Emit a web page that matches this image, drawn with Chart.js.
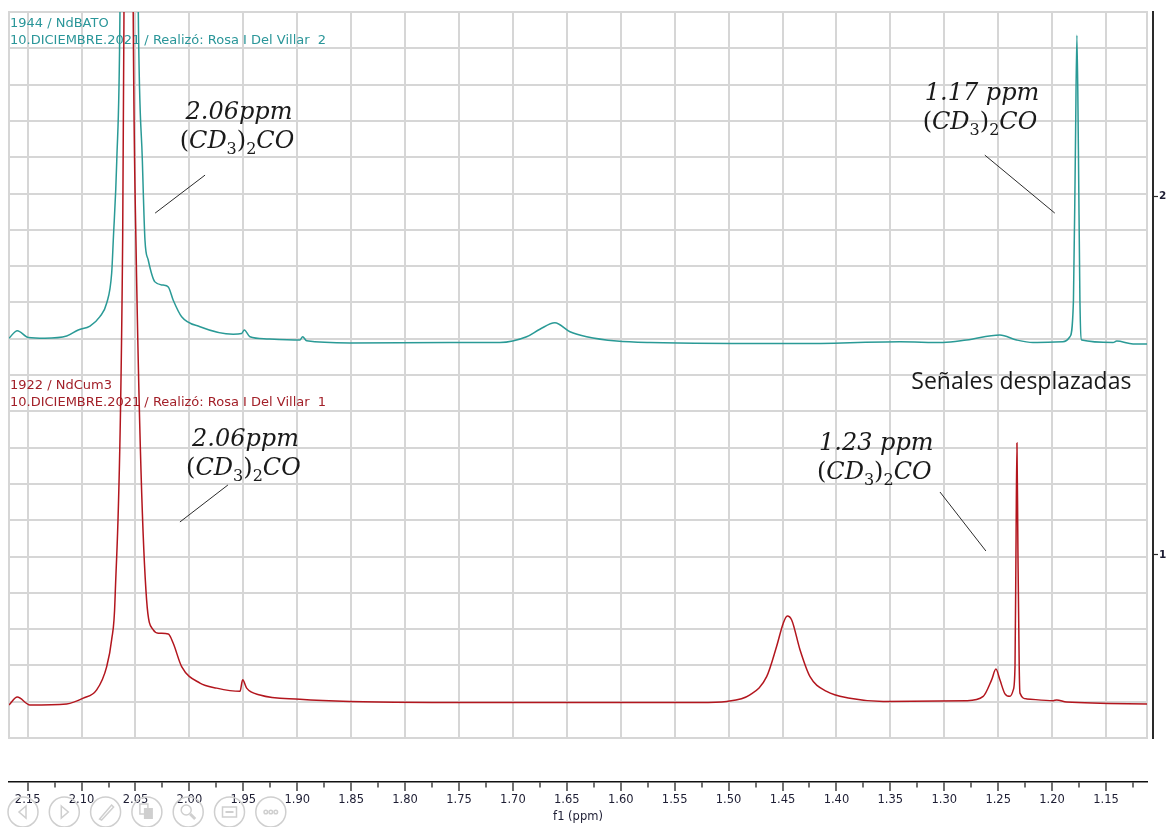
<!DOCTYPE html>
<html>
<head>
<meta charset="utf-8">
<title>NdBATO / NdCum3 - f1 (ppm)</title>
<script src="https://cdn.jsdelivr.net/npm/chart.js@4.4.1/dist/chart.umd.min.js"></script>
<style>
  html, body { margin: 0; padding: 0; background: #fff; }
  #wrap { width: 1169px; height: 827px; position: relative; }
</style>
</head>
<body>
<div id="wrap"><canvas id="nmr"></canvas></div>
<script>
// 1944 / NdBATO trace: shift (ppm) and height above its own baseline
const ppmNdBATO = [2.1673, 2.1596, 2.1494, 2.1340, 2.1138, 2.1031, 2.0922, 2.0830, 2.0767, 2.0721,
  2.0706, 2.0674, 2.0644, 2.0567, 2.0474, 2.0436, 2.0412, 2.0382, 2.0320, 2.0243,
  2.0196, 2.0150, 2.0072, 1.9902, 1.9594, 1.9516, 1.9491, 1.9439, 1.9284, 1.8975,
  1.8950, 1.8913, 1.8511, 1.7584, 1.7120, 1.6873, 1.6750, 1.6611, 1.6471, 1.6316,
  1.6038, 1.5730, 1.4339, 1.3411, 1.3012, 1.2793, 1.2484, 1.2329, 1.2178, 1.1900,
  1.1835, 1.1802, 1.1784, 1.1770, 1.1756, 1.1742, 1.1726, 1.1435, 1.1401, 1.1249, 1.1120];
const intNdBATO = [0.008, 0.029, 0.010, 0.008, 0.014, 0.031, 0.042, 0.068, 0.106, 0.189,
  0.281, 0.500, 0.916, 5.0, 0.916, 0.500, 0.281, 0.226, 0.165, 0.156,
  0.151, 0.114, 0.068, 0.040, 0.019, 0.021, 0.031, 0.012, 0.006, 0.003,
  0.012, 0.001, -0.005, -0.004, -0.004, 0.012, 0.033, 0.051, 0.026, 0.012,
  0.000, -0.004, -0.007, -0.002, -0.004, 0.003, 0.017, 0.003, -0.004, -0.002,
  0.012, 0.114, 0.532, 0.852, 0.532, 0.114, 0.003, -0.004, 0.000, -0.008, -0.008];

// 1922 / NdCum3 trace
const ppmNdCum3 = [2.1673, 2.1596, 2.1479, 2.1138, 2.0984, 2.0860, 2.0767, 2.0721, 2.0690, 2.0619,
  2.0607, 2.0563, 2.0521, 2.0496, 2.0397, 2.0335, 2.0289, 2.0196, 2.0150, 2.0072,
  1.9902, 1.9747, 1.9531, 1.9506, 1.9469, 1.9346, 1.8975, 1.8511, 1.7120, 1.5266,
  1.5018, 1.4802, 1.4647, 1.4555, 1.4493, 1.4456, 1.4415, 1.4338, 1.4245, 1.4091,
  1.3875, 1.3566, 1.2793, 1.2639, 1.2561, 1.2521, 1.2484, 1.2437, 1.2391, 1.2360,
  1.2344, 1.2335, 1.2326, 1.2317, 1.2305, 1.2298, 1.2236, 1.1990, 1.1958, 1.1865, 1.1120];
const intNdCum3 = [-0.006, 0.016, -0.006, -0.003, 0.013, 0.036, 0.101, 0.176, 0.287, 1.290,
  1.916, 5.0, 1.916, 1.290, 0.287, 0.203, 0.194, 0.192, 0.166, 0.101,
  0.055, 0.041, 0.032, 0.064, 0.041, 0.022, 0.010, 0.004, 0.001, 0.001,
  0.004, 0.022, 0.073, 0.157, 0.222, 0.242, 0.231, 0.148, 0.073, 0.032,
  0.013, 0.004, 0.006, 0.018, 0.064, 0.094, 0.064, 0.025, 0.018, 0.036,
  0.101, 0.426, 0.724, 0.426, 0.101, 0.027, 0.011, 0.006, 0.008, 0.002, -0.003];

// where each trace sits on the stack axis
const baseNdBATO = 1.596;
const baseNdCum3 = 0.588;

const ppmTicks = [2.15, 2.10, 2.05, 2.00, 1.95, 1.90, 1.85, 1.80, 1.75, 1.70, 1.65,
  1.60, 1.55, 1.50, 1.45, 1.40, 1.35, 1.30, 1.25, 1.20, 1.15];
const stackTicks = [1, 2];

// spectrum headers (stack axis value of first line)
const headers = [
  { val: 2.482, color: '#2a9699', lines: ['1944 / NdBATO', '10.DICIEMBRE.2021 / Realizó: Rosa I Del Villar  2'] },
  { val: 1.471, color: '#a21f28', lines: ['1922 / NdCum3', '10.DICIEMBRE.2021 / Realizó: Rosa I Del Villar  1'] }
];

// solvent peak call-outs: text anchor and leader line, in ppm / stack units
const notes = [
  { text: '2.06ppm',  ppm: 1.954, val: 2.216, line: [2.0318, 1.9526, 1.9855, 2.0585] },
  { text: '2.06ppm',  ppm: 1.948, val: 1.304, line: [2.0088, 1.0919, 1.9643, 1.1950] },
  { text: '1.17 ppm', ppm: 1.265, val: 2.267, line: [1.2624, 2.1142, 1.1975, 1.9526] },
  { text: '1.23 ppm', ppm: 1.363, val: 1.293, line: [1.3040, 1.1755, 1.2614, 1.0111] }
];
const shiftNote = { text: 'Señales desplazadas', ppm: 1.2285, val: 1.462 };

const toolIcons = ['prev', 'next', 'pen', 'copy', 'zoom', 'keys', 'more'];

function isMajor(v) {
  return Math.abs(v * 20 - Math.round(v * 20)) < 1e-6;
}

const allTicks = [];
ppmTicks.forEach(v => { allTicks.push(v); allTicks.push(+(v - 0.025).toFixed(3)); });

function trace(ppm, ints, base) {
  return ppm.map((p, i) => ({ x: p, y: base + ints[i] }));
}

// (CD3)2CO with subscripts, centred on cx
function drawFormula(ctx, cx, y) {
  const parts = [
    { t: '(', f: '24px "DejaVu Serif"', dy: 0 },
    { t: 'CD', f: 'italic 24px "DejaVu Serif"', dy: 0 },
    { t: '3', f: '16px "DejaVu Serif"', dy: 6 },
    { t: ')', f: '24px "DejaVu Serif"', dy: 0 },
    { t: '2', f: '16px "DejaVu Serif"', dy: 6 },
    { t: 'CO', f: 'italic 24px "DejaVu Serif"', dy: 0 }
  ];
  let w = 0;
  parts.forEach(p => { ctx.font = p.f; p.w = ctx.measureText(p.t).width; w += p.w; });
  let x = cx - w / 2;
  ctx.textAlign = 'left';
  parts.forEach(p => { ctx.font = p.f; ctx.fillText(p.t, x, y + p.dy); x += p.w; });
}

const frame = {
  id: 'frame',
  beforeDatasetsDraw(chart) {
    const { ctx, chartArea: a, scales } = chart;
    ctx.save();
    ctx.strokeStyle = '#d6d6d6';
    ctx.lineWidth = 2;
    ctx.strokeRect(a.left, a.top, a.right - a.left, a.bottom - a.top);
    ctx.font = '13px "DejaVu Sans"';
    ctx.textAlign = 'left';
    ctx.textBaseline = 'middle';
    headers.forEach(h => {
      const y0 = scales.y.getPixelForValue(h.val);
      ctx.fillStyle = h.color;
      h.lines.forEach((s, i) => ctx.fillText(s, a.left + 1, y0 + i * 17));
    });
    ctx.restore();
  },
  afterDatasetsDraw(chart) {
    const { ctx, scales } = chart;
    const px = v => scales.x.getPixelForValue(v);
    const py = v => scales.y.getPixelForValue(v);
    ctx.save();
    ctx.fillStyle = '#1a1a1a';
    ctx.strokeStyle = '#2b2b2b';
    ctx.lineWidth = 1;
    ctx.textBaseline = 'alphabetic';
    notes.forEach(n => {
      const cx = px(n.ppm), y = py(n.val);
      ctx.font = 'italic 24px "DejaVu Serif"';
      ctx.textAlign = 'center';
      ctx.fillText(n.text, cx, y);
      drawFormula(ctx, cx - 2, y + 29);
      ctx.beginPath();
      ctx.moveTo(px(n.line[0]), py(n.line[1]));
      ctx.lineTo(px(n.line[2]), py(n.line[3]));
      ctx.stroke();
    });
    ctx.font = '23px "Open Sans"';
    ctx.textAlign = 'center';
    ctx.fillText(shiftNote.text, px(shiftNote.ppm), py(shiftNote.val));
    ctx.restore();
  },
  afterDraw(chart) {
    const ctx = chart.ctx;
    ctx.save();
    ctx.strokeStyle = '#cfcfcf';
    ctx.fillStyle = '#cfcfcf';
    ctx.lineWidth = 1.5;
    const cy = 812, r = 15;
    toolIcons.forEach((name, i) => {
      const cx = 23 + i * 41.3;
      ctx.beginPath(); ctx.arc(cx, cy, r, 0, Math.PI * 2); ctx.stroke();
      ctx.beginPath();
      if (name === 'prev') {
        ctx.moveTo(cx + 3, cy - 6); ctx.lineTo(cx - 4, cy); ctx.lineTo(cx + 3, cy + 6); ctx.closePath(); ctx.stroke();
      } else if (name === 'next') {
        ctx.moveTo(cx - 3, cy - 6); ctx.lineTo(cx + 4, cy); ctx.lineTo(cx - 3, cy + 6); ctx.closePath(); ctx.stroke();
      } else if (name === 'pen') {
        ctx.moveTo(cx - 6, cy + 7); ctx.lineTo(cx + 6, cy - 7); ctx.lineTo(cx + 8, cy - 5); ctx.lineTo(cx - 4, cy + 8); ctx.closePath(); ctx.stroke();
      } else if (name === 'copy') {
        ctx.fillRect(cx - 3, cy - 4, 9, 11);
        ctx.strokeRect(cx - 7, cy - 8, 8, 10);
      } else if (name === 'zoom') {
        ctx.arc(cx - 2, cy - 2, 5, 0, Math.PI * 2); ctx.stroke();
        ctx.beginPath(); ctx.lineWidth = 3; ctx.moveTo(cx + 2, cy + 2); ctx.lineTo(cx + 7, cy + 7); ctx.stroke(); ctx.lineWidth = 1.5;
      } else if (name === 'keys') {
        ctx.strokeRect(cx - 7, cy - 5, 14, 10);
        ctx.fillRect(cx - 4, cy - 1, 8, 2);
      } else {
        [-5, 0, 5].forEach(d => { ctx.beginPath(); ctx.arc(cx + d, cy, 1.8, 0, Math.PI * 2); ctx.stroke(); });
      }
    });
    ctx.restore();
  }
};

new Chart(document.getElementById('nmr'), {
  type: 'line',
  data: {
    datasets: [
      {
        label: '1944 / NdBATO',
        data: trace(ppmNdBATO, intNdBATO, baseNdBATO),
        borderColor: '#2a9a96',
        borderWidth: 1.5,
        pointRadius: 0,
        cubicInterpolationMode: 'monotone',
        xAxisID: 'x', yAxisID: 'y'
      },
      {
        label: '1922 / NdCum3',
        data: trace(ppmNdCum3, intNdCum3, baseNdCum3),
        borderColor: '#b3161e',
        borderWidth: 1.5,
        pointRadius: 0,
        cubicInterpolationMode: 'monotone',
        xAxisID: 'x', yAxisID: 'y'
      }
    ]
  },
  options: {
    responsive: true,
    maintainAspectRatio: false,
    animation: false,
    layout: { padding: { left: 9, top: 12, right: 0, bottom: 0 } },
    plugins: { legend: { display: false }, tooltip: { enabled: false } },
    scales: {
      // empty band between the plot frame and the ppm axis
      xs: {
        type: 'linear', position: 'bottom', weight: 0,
        grid: { display: false, drawTicks: false },
        border: { display: false },
        ticks: { display: false },
        afterFit: s => { s.height = 44; }
      },
      x: {
        type: 'linear', position: 'bottom', weight: 1, reverse: true,
        min: 1.112, max: 2.1673,
        afterBuildTicks: s => { s.ticks = allTicks.map(v => ({ value: v })); },
        afterFit: s => { s.height = 45; },
        border: { display: true, color: '#111', width: 1.5 },
        grid: {
          color: c => (c.tick && isMajor(c.tick.value)) ? '#d6d6d6' : 'rgba(0,0,0,0)',
          lineWidth: 2,
          tickColor: '#111',
          tickWidth: 1.2,
          tickLength: 9,
          tickBorderDash: c => (c.tick && isMajor(c.tick.value)) ? [] : [5, 30]
        },
        ticks: {
          autoSkip: false, maxRotation: 0, padding: 2,
          color: '#1d1d33',
          font: { family: 'DejaVu Sans', size: 11.5 },
          callback: v => isMajor(v) ? v.toFixed(2) : ''
        },
        title: {
          display: true, text: 'f1 (ppm)', color: '#1d1d33',
          font: { family: 'DejaVu Sans', size: 11.5 },
          padding: { top: 0, bottom: 3 }
        }
      },
      // horizontal grid of the plot frame
      yg: {
        type: 'linear', position: 'left', min: 0, max: 20,
        ticks: { display: false, stepSize: 1 },
        grid: { color: '#d6d6d6', lineWidth: 2, drawTicks: false },
        border: { display: false },
        afterFit: s => { s.width = 0; }
      },
      ys: {
        type: 'linear', position: 'right', weight: 0,
        grid: { display: false, drawTicks: false },
        border: { display: false },
        ticks: { display: false },
        afterFit: s => { s.width = 6; }
      },
      y: {
        type: 'linear', position: 'right', weight: 1,
        min: 0.49, max: 2.513,
        afterBuildTicks: s => { s.ticks = stackTicks.map(v => ({ value: v })); },
        afterFit: s => { s.width = 16; },
        border: { display: true, color: '#2a2a2a', width: 2 },
        grid: { drawOnChartArea: false, tickLength: 5, tickColor: '#2a2a2a', tickWidth: 1.2 },
        ticks: { padding: 1, color: '#1d1d33', font: { family: 'DejaVu Sans', size: 10.5, weight: 'bold' } }
      }
    }
  },
  plugins: [frame]
});
</script>
</body>
</html>
